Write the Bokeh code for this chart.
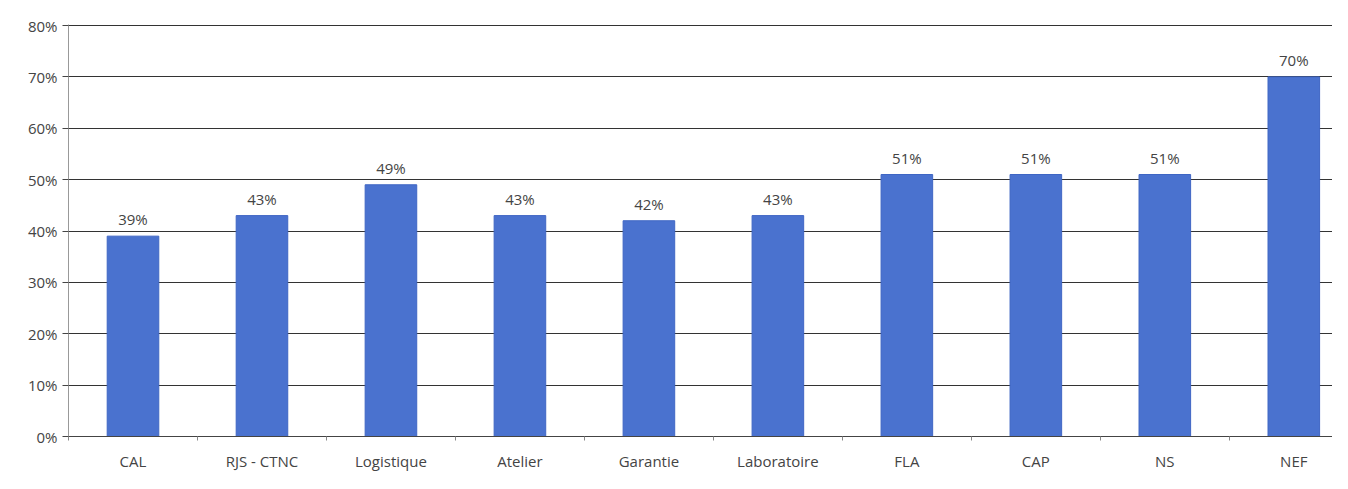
from bokeh.plotting import figure
from bokeh.models import ColumnDataSource, FixedTicker, Range1d, LabelSet, NumeralTickFormatter
from bokeh.core.properties import value
from bokeh.embed import file_html
from bokeh.resources import INLINE

categories = ["CAL", "RJS - CTNC", "Logistique", "Atelier", "Garantie",
              "Laboratoire", "FLA", "CAP", "NS", "NEF"]
values = [0.39, 0.43, 0.49, 0.43, 0.42, 0.43, 0.51, 0.51, 0.51, 0.70]
labels = ["39%", "43%", "49%", "43%", "42%", "43%", "51%", "51%", "51%", "70%"]
y_ticks = [0, 0.1, 0.2, 0.3, 0.4, 0.5, 0.6, 0.7, 0.8]

centers = [i + 0.5 for i in range(len(categories))]
bounds = [i for i in range(len(categories) + 1)]

src = ColumnDataSource(dict(x=centers, top=values, label=labels))

p = figure(width=1332, height=473, output_backend="svg", toolbar_location=None,
           x_range=Range1d(0, 9.8), y_range=Range1d(0, 0.802),
           min_border_left=68, min_border_right=0, min_border_top=24,
           min_border_bottom=32)
p.outline_line_color = None
p.background_fill_color = "white"

p.vbar(x="x", top="top", width=0.4, bottom=0, source=src,
       fill_color="#4a72cf", line_color="#3f66c4", line_width=1)

p.add_layout(LabelSet(x="x", y="top", text="label", source=src,
                      text_align="center", text_baseline="bottom",
                      y_offset=7, text_font=value("Open Sans"),
                      text_font_size="15px", text_color="#444444"))

# y axis
p.yaxis.ticker = FixedTicker(ticks=y_ticks)
p.yaxis.formatter = NumeralTickFormatter(format="0%")
p.yaxis.axis_line_color = "#999999"
p.yaxis.major_tick_line_color = "#444444"
p.yaxis.major_tick_out = 6
p.yaxis.major_tick_in = 0
p.yaxis.minor_tick_line_color = None
p.yaxis.major_label_text_font = "Open Sans"
p.yaxis.major_label_text_font_size = "15px"
p.yaxis.major_label_text_color = "#444444"
p.yaxis.major_label_standoff = 5

# x axis
p.xaxis.ticker = FixedTicker(ticks=centers, minor_ticks=bounds)
p.xaxis.major_label_overrides = {c: n for c, n in zip(centers, categories)}
p.xaxis.major_tick_line_color = None
p.xaxis.minor_tick_line_color = "#888888"
p.xaxis.minor_tick_out = 4
p.xaxis.minor_tick_in = 0
p.xaxis.axis_line_color = "#444444"
p.xaxis.major_label_text_font = "Open Sans"
p.xaxis.major_label_text_font_size = "15px"
p.xaxis.major_label_text_color = "#444444"
p.xaxis.major_label_standoff = 8

p.xgrid.grid_line_color = None
p.ygrid.grid_line_color = "#333333"
p.ygrid.grid_line_width = 1

open("out.html", "w").write(file_html(p, INLINE))
